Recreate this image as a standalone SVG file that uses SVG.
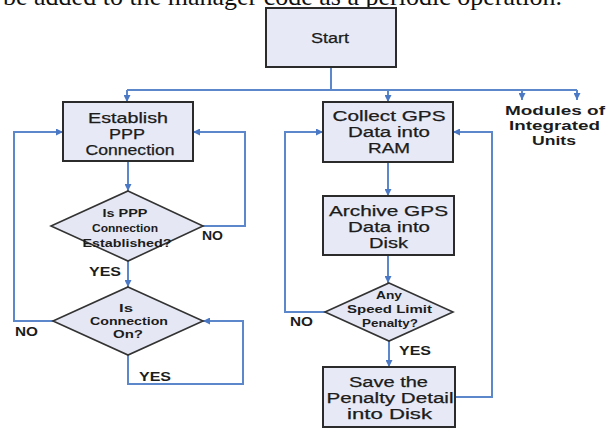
<svg xmlns="http://www.w3.org/2000/svg" width="613" height="428" viewBox="0 0 613 428">
  <defs>
    <marker id="arrow" viewBox="0 0 8 8" refX="8" refY="4" markerWidth="7" markerHeight="7" markerUnits="userSpaceOnUse" orient="auto">
      <path d="M0,0 L8,4 L0,8 z" fill="#4a78c4"/>
    </marker>
    <style>
      .box { fill: #e7eaf6; stroke: #2b2b2b; stroke-width: 2; }
      .dia { fill: #e5e8f4; stroke: #333333; stroke-width: 1.6; }
      .wire { fill: none; stroke: #5c88cb; stroke-width: 2; }
      .arr { marker-end: url(#arrow); }
      .bt { font-family: "Liberation Sans", Arial, sans-serif; font-size: 14px; fill: #1c1c1c; text-anchor: middle; stroke: #1c1c1c; stroke-width: 0.25; }
      .dt { font-family: "Liberation Sans", Arial, sans-serif; font-size: 11.5px; font-weight: bold; fill: #1c1c1c; text-anchor: middle; }
      .lb { font-family: "Liberation Sans", Arial, sans-serif; font-size: 12.5px; font-weight: bold; fill: #1c1c1c; }
      .mt { font-family: "Liberation Sans", Arial, sans-serif; font-size: 13.5px; font-weight: bold; fill: #1c1c1c; text-anchor: middle; }
      .body { font-family: "Liberation Serif", "Times New Roman", serif; font-size: 26px; fill: #111111; }
    </style>
  </defs>

  <rect width="613" height="428" fill="#ffffff"/>

  <!-- last line of the paragraph above the figure -->
  <text class="body" x="3" y="5" textLength="559" lengthAdjust="spacingAndGlyphs">be added to the manager code as a periodic operation.</text>

  <!-- connectors -->
  <g id="connectors">
    <path class="wire" d="M331,67 V90"/>
    <path class="wire" d="M127,90 H577"/>
    <path class="wire arr" d="M127,90 V102"/>
    <path class="wire arr" d="M388,90 V102"/>
    <path class="wire arr" d="M522,90 V100"/>
    <path class="wire arr" d="M577,90 V100"/>
    <path class="wire arr" d="M128,161 V191"/>
    <path class="wire arr" d="M128,261 V287"/>
    <path class="wire arr" d="M203,226 H245 V132 H193"/>
    <path class="wire arr" d="M53,321 H14 V132 H63"/>
    <path class="wire arr" d="M128,355 V384 H243 V321 H203"/>
    <path class="wire arr" d="M388,162 V196"/>
    <path class="wire arr" d="M388,255 V283"/>
    <path class="wire arr" d="M389,341 V367"/>
    <path class="wire arr" d="M325,312 H285 V132 H323"/>
    <path class="wire arr" d="M455,397 H492 V132 H453"/>
  </g>

  <g id="start">
    <rect class="box" x="266" y="8" width="130" height="59"/>
    <text class="bt" x="330" y="43" textLength="38" lengthAdjust="spacingAndGlyphs">Start</text>
  </g>

  <g id="establish">
    <rect class="box" x="63" y="102" width="130" height="59"/>
    <text class="bt" x="128" y="123" textLength="80" lengthAdjust="spacingAndGlyphs">Establish</text>
    <text class="bt" x="127" y="139" textLength="36" lengthAdjust="spacingAndGlyphs">PPP</text>
    <text class="bt" x="130" y="155" textLength="89" lengthAdjust="spacingAndGlyphs">Connection</text>
  </g>

  <g id="ppp-check">
    <polygon class="dia" points="128,191 203,226 128,261 51,226"/>
    <text class="dt" x="125" y="217" textLength="45" lengthAdjust="spacingAndGlyphs">Is PPP</text>
    <text class="dt" x="125" y="232" textLength="66" lengthAdjust="spacingAndGlyphs">Connection</text>
    <text class="dt" x="127" y="247" textLength="89" lengthAdjust="spacingAndGlyphs">Established?</text>
  </g>

  <g id="conn-check">
    <polygon class="dia" points="128,287 203,321 128,355 53,321"/>
    <text class="dt" x="126" y="312" textLength="14" lengthAdjust="spacingAndGlyphs">Is</text>
    <text class="dt" x="129" y="325" textLength="78" lengthAdjust="spacingAndGlyphs">Connection</text>
    <text class="dt" x="128" y="338" textLength="30" lengthAdjust="spacingAndGlyphs">On?</text>
  </g>

  <g id="collect">
    <rect class="box" x="323" y="102" width="130" height="60"/>
    <text class="bt" x="389" y="121" textLength="113" lengthAdjust="spacingAndGlyphs">Collect GPS</text>
    <text class="bt" x="389" y="137" textLength="82" lengthAdjust="spacingAndGlyphs">Data into</text>
    <text class="bt" x="389" y="153" textLength="42" lengthAdjust="spacingAndGlyphs">RAM</text>
  </g>

  <g id="archive">
    <rect class="box" x="323" y="196" width="131" height="59"/>
    <text class="bt" x="388.5" y="216" textLength="119" lengthAdjust="spacingAndGlyphs">Archive GPS</text>
    <text class="bt" x="389" y="232" textLength="82" lengthAdjust="spacingAndGlyphs">Data into</text>
    <text class="bt" x="388.5" y="248" textLength="39" lengthAdjust="spacingAndGlyphs">Disk</text>
  </g>

  <g id="speed-check">
    <polygon class="dia" points="389,283 453,312 389,341 325,312"/>
    <text class="dt" x="389" y="299" textLength="26" lengthAdjust="spacingAndGlyphs">Any</text>
    <text class="dt" x="389.5" y="313" textLength="85" lengthAdjust="spacingAndGlyphs">Speed Limit</text>
    <text class="dt" x="390" y="327" textLength="56" lengthAdjust="spacingAndGlyphs">Penalty?</text>
  </g>

  <g id="save">
    <rect class="box" x="323" y="367" width="132" height="60"/>
    <text class="bt" x="388.5" y="387" textLength="79" lengthAdjust="spacingAndGlyphs">Save the</text>
    <text class="bt" x="390" y="403" textLength="127" lengthAdjust="spacingAndGlyphs">Penalty Detail</text>
    <text class="bt" x="389.5" y="419" textLength="85" lengthAdjust="spacingAndGlyphs">into Disk</text>
  </g>

  <g id="modules">
    <text class="mt" x="555" y="115" textLength="100" lengthAdjust="spacingAndGlyphs">Modules of</text>
    <text class="mt" x="554.5" y="130" textLength="91" lengthAdjust="spacingAndGlyphs">Integrated</text>
    <text class="mt" x="554" y="145" textLength="44" lengthAdjust="spacingAndGlyphs">Units</text>
  </g>

  <!-- branch labels -->
  <g id="labels">
    <text class="lb" x="202" y="240" textLength="21" lengthAdjust="spacingAndGlyphs">NO</text>
    <text class="lb" x="89" y="276" textLength="32" lengthAdjust="spacingAndGlyphs">YES</text>
    <text class="lb" x="15" y="336" textLength="23" lengthAdjust="spacingAndGlyphs">NO</text>
    <text class="lb" x="139" y="381" textLength="32" lengthAdjust="spacingAndGlyphs">YES</text>
    <text class="lb" x="290" y="326" textLength="23" lengthAdjust="spacingAndGlyphs">NO</text>
    <text class="lb" x="399" y="355" textLength="32" lengthAdjust="spacingAndGlyphs">YES</text>
  </g>
</svg>
